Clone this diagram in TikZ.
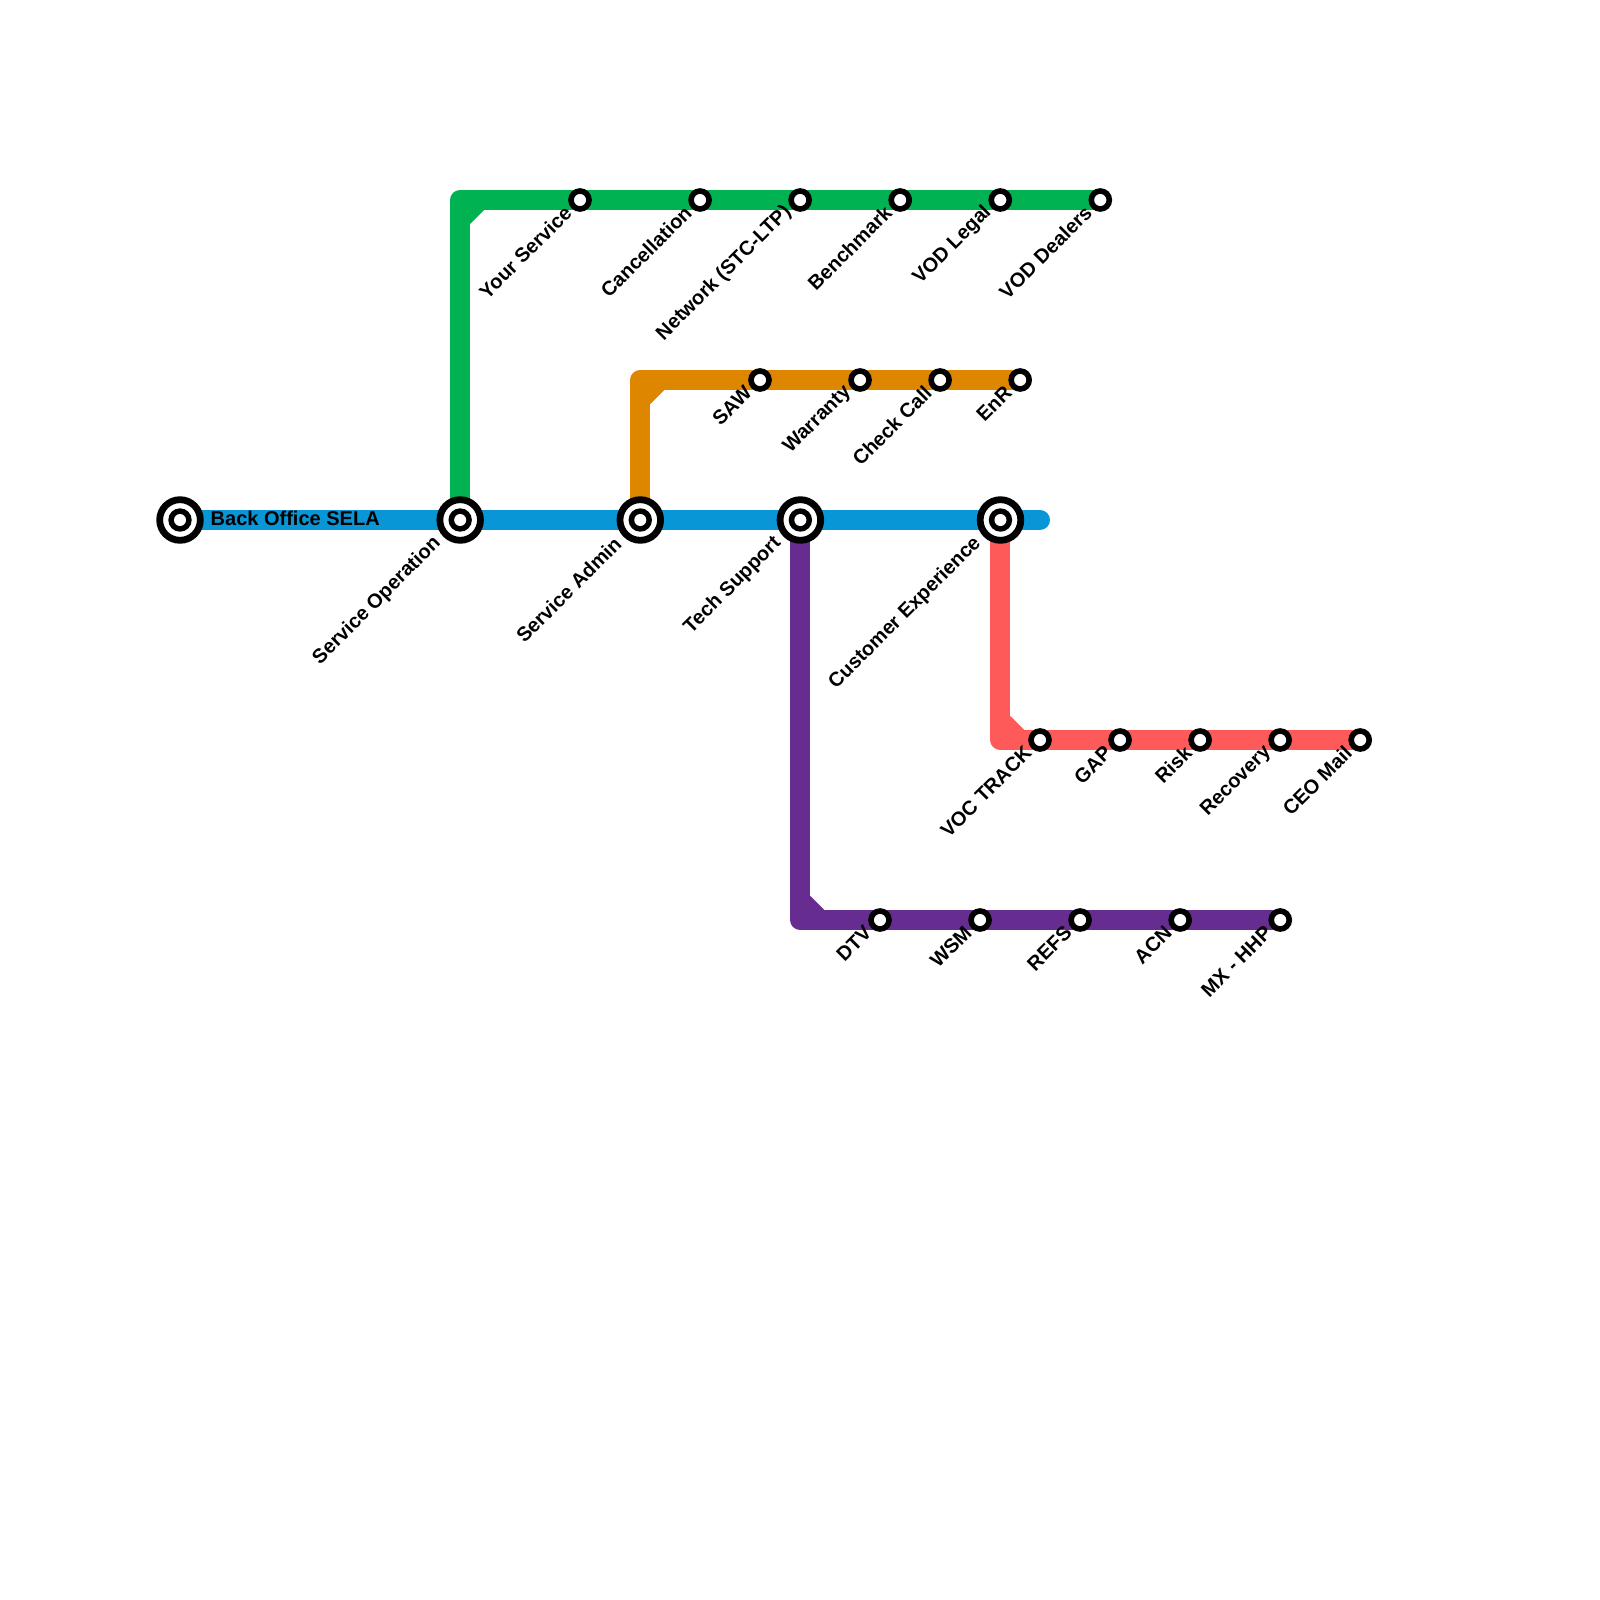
\documentclass[tikz,border=0pt]{standalone}
\usepackage{fontspec}
\setmainfont{Liberation Sans}
\usetikzlibrary{positioning,backgrounds}

\definecolor{linegreen}{HTML}{00B251}
\definecolor{lineorange}{HTML}{DF8600}
\definecolor{lineblue}{HTML}{0896D7}
\definecolor{linered}{HTML}{FF5A5A}
\definecolor{linepurple}{HTML}{662C90}

\tikzset{
  stop/.style={circle,draw=black,fill=white,line width=.056cm,minimum size=.18cm,inner sep=0pt},
  hub/.style={circle,draw=black,fill=white,line width=.068cm,minimum size=.406cm,inner sep=0pt,
    path picture={
      \fill[black] (path picture bounding box.center) circle (.117cm);
      \fill[white] (path picture bounding box.center) circle (.06cm);
    }},
  metro/.style={line width=.2cm,line join=round},
  stoplabel/.style={anchor=east,rotate=45,inner sep=0pt,font=\fontsize{5.69}{6}\selectfont\bfseries},
  linelabel/.style={anchor=west,inner sep=0pt,font=\fontsize{5.69}{6}\selectfont\bfseries},
  near stop/.style={shift={(-.115cm,-.09cm)}},
  near hub/.style={shift={(-.22cm,-.2cm)}}
}

\begin{document}
\begin{tikzpicture}[x=.01cm,y=-.01cm,on grid]
  \useasboundingbox (0,0) rectangle (1600,1600);

  % main line
  \node[hub] (b_0) at (180,520) {};
  \node[hub] (b_1) [right=2.8cm of b_0] {};
  \node[hub] (b_2) [right=1.8cm of b_1] {};
  \node[hub] (b_3) [right=1.6cm of b_2] {};
  \node[hub] (b_4) [right=2cm of b_3] {};
  \coordinate (b_end) at (1040,520);
  \node[linelabel] (l_b0) at ([xshift=.3cm,yshift=.015cm]b_0.center) {Back Office SELA};
  \node[stoplabel] (l_b1) at ([near hub]b_1.center) {Service Operation};
  \node[stoplabel] (l_b2) at ([near hub]b_2.center) {Service Admin};
  \node[stoplabel] (l_b3) at ([near hub]b_3.center) {Tech Support};
  \node[stoplabel] (l_b4) at ([near hub]b_4.center) {Customer Experience};

  % green
  \node[stop] (g_1) at (580,200) {};
  \node[stop] (g_2) [right=1.2cm of g_1] {};
  \node[stop] (g_3) [right=1cm of g_2] {};
  \node[stop] (g_4) [right=1cm of g_3] {};
  \node[stop] (g_5) [right=1cm of g_4] {};
  \node[stop] (g_6) [right=1cm of g_5] {};
  \node[stoplabel] (l_g1) at ([near stop]g_1.center) {Your Service};
  \node[stoplabel] (l_g2) at ([near stop]g_2.center) {Cancellation};
  \node[stoplabel] (l_g3) at ([near stop]g_3.center) {Network (STC-LTP)};
  \node[stoplabel] (l_g4) at ([near stop]g_4.center) {Benchmark};
  \node[stoplabel] (l_g5) at ([near stop]g_5.center) {VOD Legal};
  \node[stoplabel] (l_g6) at ([near stop]g_6.center) {VOD Dealers};

  % orange
  \node[stop] (o_1) at (760,380) {};
  \node[stop] (o_2) [right=1cm of o_1] {};
  \node[stop] (o_3) [right=.8cm of o_2] {};
  \node[stop] (o_4) [right=.8cm of o_3] {};
  \node[stoplabel] (l_o1) at ([near stop]o_1.center) {SAW};
  \node[stoplabel] (l_o2) at ([near stop]o_2.center) {Warranty};
  \node[stoplabel] (l_o3) at ([near stop]o_3.center) {Check Call};
  \node[stoplabel] (l_o4) at ([near stop]o_4.center) {EnR};

  % red
  \node[stop] (r_1) at (1040,740) {};
  \node[stop] (r_2) [right=.8cm of r_1] {};
  \node[stop] (r_3) [right=.8cm of r_2] {};
  \node[stop] (r_4) [right=.8cm of r_3] {};
  \node[stop] (r_5) [right=.8cm of r_4] {};
  \node[stoplabel] (l_r1) at ([near stop]r_1.center) {VOC TRACK};
  \node[stoplabel] (l_r2) at ([near stop]r_2.center) {GAP};
  \node[stoplabel] (l_r3) at ([near stop]r_3.center) {Risk};
  \node[stoplabel] (l_r4) at ([near stop]r_4.center) {Recovery};
  \node[stoplabel] (l_r5) at ([near stop]r_5.center) {CEO Mail};

  % purple
  \node[stop] (p_1) at (880,920) {};
  \node[stop] (p_2) [right=1cm of p_1] {};
  \node[stop] (p_3) [right=1cm of p_2] {};
  \node[stop] (p_4) [right=1cm of p_3] {};
  \node[stop] (p_5) [right=1cm of p_4] {};
  \node[stoplabel] (l_p1) at ([near stop]p_1.center) {DTV};
  \node[stoplabel] (l_p2) at ([near stop]p_2.center) {WSM};
  \node[stoplabel] (l_p3) at ([near stop]p_3.center) {REFS};
  \node[stoplabel] (l_p4) at ([near stop]p_4.center) {ACN};
  \node[stoplabel] (l_p5) at ([near stop]p_5.center) {MX - HHP};

  \begin{scope}[on background layer]
    \draw[metro,lineblue,line cap=round] (b_0.center) -- (b_end);

    \draw[metro,linegreen] (b_1.center) |- (g_6.center);
    \coordinate (g_c) at (b_1 |- g_6);
    \fill[linegreen] (g_c) -- +(10,24) -- +(24,10) -- cycle;

    \draw[metro,lineorange] (b_2.center) |- (o_4.center);
    \coordinate (o_c) at (b_2 |- o_4);
    \fill[lineorange] (o_c) -- +(10,24) -- +(24,10) -- cycle;

    \draw[metro,linered] (b_4.center) |- (r_5.center);
    \coordinate (r_c) at (b_4 |- r_5);
    \fill[linered] (r_c) -- +(10,-24) -- +(24,-10) -- cycle;

    \draw[metro,linepurple] (b_3.center) |- (p_5.center);
    \coordinate (p_c) at (b_3 |- p_5);
    \fill[linepurple] (p_c) -- +(10,-24) -- +(24,-10) -- cycle;
  \end{scope}
\end{tikzpicture}
\end{document}
